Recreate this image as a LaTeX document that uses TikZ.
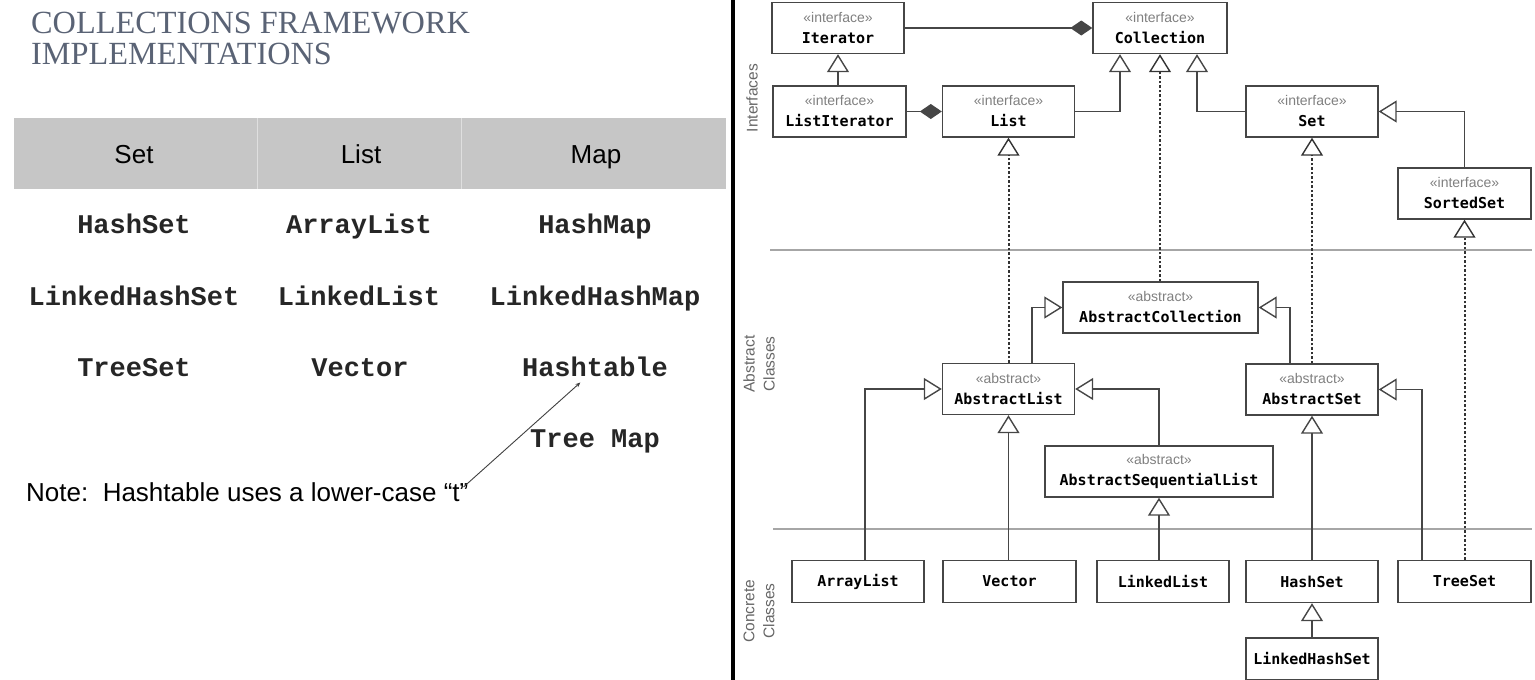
\documentclass[tikz,border=0pt]{standalone}
\usepackage{fontspec}
\setmainfont{Liberation Sans}
\newfontfamily\slideserif{Liberation Serif}
\newfontfamily\slidemono{Liberation Mono}
\newfontfamily\umlmono{DejaVu Sans Mono}
\usetikzlibrary{arrows.meta,calc}

\definecolor{titleblue}{RGB}{90,99,117}
\definecolor{bandgray}{RGB}{198,198,198}
\definecolor{umlline}{RGB}{70,70,70}

\newcommand{\stereo}[1]{{\rmfamily\mdseries\fontsize{14}{21}\selectfont\color{gray}«#1»}}

\begin{document}
\begin{tikzpicture}[x=1pt,y=-1pt,
  umlbox/.style={draw=umlline, line width=1.4pt, fill=white, minimum width=132pt,
    minimum height=51pt, inner sep=0pt, align=center,
    font=\umlmono\bfseries\fontsize{15}{21}\selectfont},
  concrete/.style={umlbox, minimum height=42pt},
  isa/.style={draw=umlline, line width=1.4pt,
    -{Triangle[open,length=18pt,width=22pt,line width=1.4pt]}},
  realize/.style={isa, draw=black!80, dash pattern=on 2.5pt off 2pt, line width=2pt},
  owns/.style={draw=umlline, line width=1.4pt, -{Diamond[length=22pt,width=15pt]}},
  divider/.style={gray!70, line width=1.6pt},
  tier/.style={rotate=90, align=center, text=gray!80!black, inner sep=0pt,
    font=\fontsize{15.5}{20}\selectfont},
  entry/.style={anchor=base, inner sep=0pt, text=black!85,
    font=\slidemono\bfseries\fontsize{27}{30}\selectfont},
  colhead/.style={anchor=base, inner sep=0pt, font=\fontsize{26}{30}\selectfont}
]

  % page size of the reference
  \useasboundingbox (0,0) rectangle (1535,680);

  % ---------- left: slide ----------
  \node[anchor=base west, inner sep=0pt, text=titleblue,
        font=\slideserif\fontsize{32.3}{32}\selectfont] (title1) at (31,33) {COLLECTIONS FRAMEWORK};
  \node[anchor=base west, inner sep=0pt, text=titleblue,
        font=\slideserif\fontsize{32.3}{32}\selectfont] (title2) at (31,64) {IMPLEMENTATIONS};

  % header band with column breaks
  \fill[bandgray] (14,118) rectangle (726,189);
  \draw[gray!25, line width=1pt] (257,118) -- (257,189) (461,118) -- (461,189);

  \node[colhead] (hset)  at (134,163) {Set};
  \node[colhead] (hlist) at (361,163) {List};
  \node[colhead] (hmap)  at (596,163) {Map};

  % implementations per column
  \node[entry] (hashsetT)   at (134,233) {HashSet};
  \node[entry] (arraylistT) at (359,233) {ArrayList};
  \node[entry] (hashmapT)   at (595,233) {HashMap};

  \node[entry] (lhashsetT)  at (134,305) {LinkedHashSet};
  \node[entry] (llistT)     at (359,305) {LinkedList};
  \node[entry] (lhashmapT)  at (595,305) {LinkedHashMap};

  \node[entry] (treesetT)   at (134,376) {TreeSet};
  \node[entry] (vectorT)    at (360,376) {Vector};
  \node[entry] (hashtable)  at (595,376) {Hashtable};

  \node[entry] (treemapT)   at (595,447) {Tree Map};

  \node[anchor=base west, inner sep=0pt, font=\fontsize{26}{30}\selectfont]
        (note) at (26,501) {Note:\ \ Hashtable uses a lower-case “t”};

  \draw[black!75, line width=0.9pt, -{Stealth[length=5pt,width=4pt]}]
        ($(note.north east)+(-5,5)$) -- ($(hashtable.south west)!0.4!(hashtable.south east)+(0,6)$);

  % black rule between the two halves
  \draw[line width=4pt] (733,0) -- (733,680);

  % ---------- right: class diagram ----------
  % tier rules and labels
  \draw[divider] (770,250) -- (1532,250);
  \draw[divider] (773,529) -- (1532,529);
  \node[tier] (tierI) at (752,98)  {Interfaces};
  \node[tier] (tierA) at (759,364) {Abstract\\Classes};
  \node[tier] (tierC) at (759,611) {Concrete\\Classes};

  % interfaces
  \node[umlbox] (iter)      at (838,28)      {\stereo{interface}\\Iterator};
  \node[umlbox, minimum width=134pt] (coll) at (1160,28) {\stereo{interface}\\Collection};
  \node[umlbox, minimum width=133pt] (listit) at (839.5,111.5) {\stereo{interface}\\ListIterator};
  \node[umlbox] (list)      at (1008.5,111.5) {\stereo{interface}\\List};
  \node[umlbox] (set)       at (1312,111.5)  {\stereo{interface}\\Set};
  \node[umlbox, minimum width=133pt] (sortedset) at (1464.5,193.5) {\stereo{interface}\\SortedSet};

  % abstract classes
  \node[umlbox, minimum width=195pt] (acoll) at (1160.5,307.5) {\stereo{abstract}\\AbstractCollection};
  \node[umlbox] (alist)     at (1008.5,389)  {\stereo{abstract}\\AbstractList};
  \node[umlbox] (aset)      at (1312,389.5)  {\stereo{abstract}\\AbstractSet};
  \node[umlbox, minimum width=228pt] (asl) at (1159,471.5) {\stereo{abstract}\\AbstractSequentialList};

  % concrete classes
  \node[concrete] (arraylist)  at (858,581.5)    {ArrayList};
  \node[concrete, minimum width=133pt] (vector) at (1009.5,581.5) {Vector};
  \node[concrete] (linkedlist) at (1163,581.5)   {LinkedList};
  \node[concrete] (hashset)    at (1312,581.5)   {HashSet};
  \node[concrete, minimum width=133pt] (treeset) at (1464.5,581.5) {TreeSet};
  \node[concrete] (lhashset)   at (1312,659)     {LinkedHashSet};

  % composition
  \draw[owns] (iter.east) -- (coll.west);
  \draw[owns] (listit.east) -- (list.west);

  % interface inheritance
  \draw[isa] (listit.north -| iter.south) -- (iter.south);
  \draw[isa] (list.east) -| ($(coll.south)+(-40,0)$);
  \draw[isa] (set.west) -| ($(coll.south)+(37,0)$);
  \draw[isa] (sortedset.north) |- (set.east);

  % realizations (dotted)
  \draw[realize] (alist.north) -- (list.south);
  \draw[realize] (acoll.north -| coll.south) -- (coll.south);
  \draw[realize] (aset.north) -- (set.south);
  \draw[realize] (treeset.north) -- (sortedset.south);

  % abstract classes
  \draw[isa] ($(alist.north)+(23.5,0)$) |- (acoll.west);
  \draw[isa] ($(aset.north)+(-22,0)$) |- (acoll.east);
  \draw[isa] (asl.north) |- (alist.east);

  % concrete classes
  \draw[isa] ($(arraylist.north)+(7,0)$) |- (alist.west);
  \draw[isa] (vector.north -| alist.south) -- (alist.south);
  \draw[isa] (linkedlist.north -| asl.south) -- (asl.south);
  \draw[isa] (hashset.north) -- (aset.south);
  \draw[isa] ($(treeset.north)+(-42.5,0)$) |- (aset.east);
  \draw[isa] (lhashset.north) -- (hashset.south);

\end{tikzpicture}
\end{document}
